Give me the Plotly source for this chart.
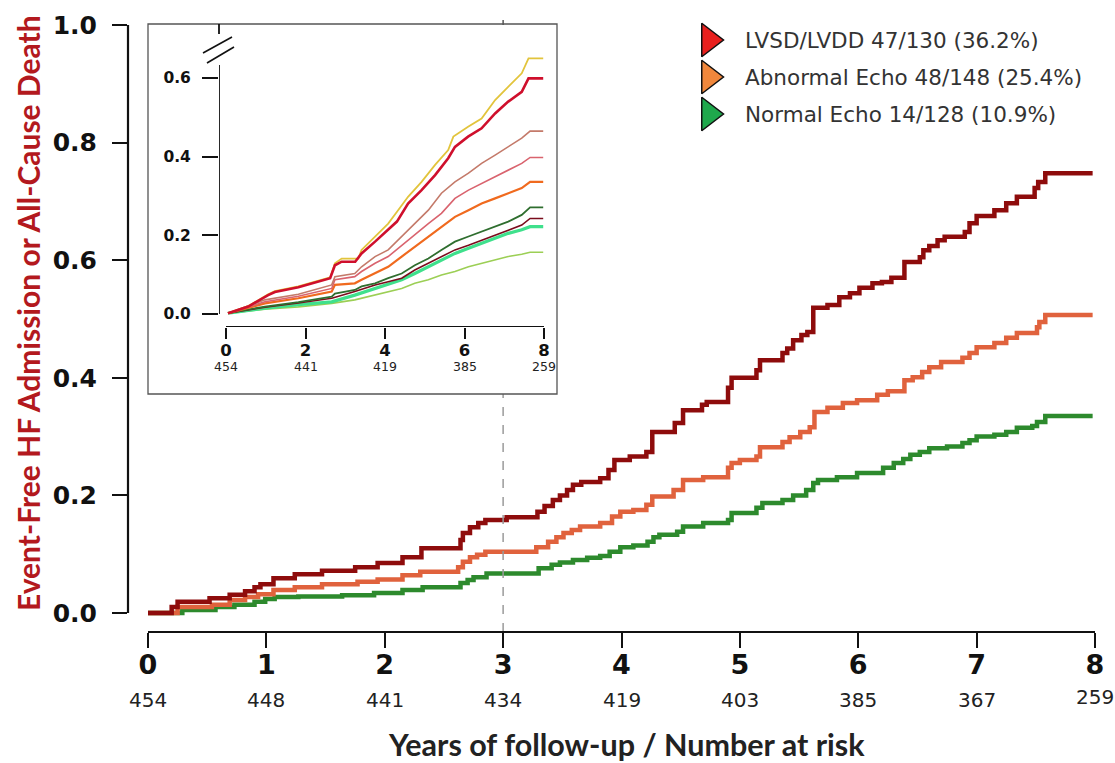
import plotly.graph_objects as go

# ---------------- data ----------------
years = [0, 1, 2, 3, 4, 5, 6, 7, 8]
at_risk = ["454", "448", "441", "434", "419", "403", "385", "367", "259"]
y_ticks = [0.0, 0.2, 0.4, 0.6, 0.8, 1.0]

series_names = ["LVSD/LVDD 47/130 (36.2%)", "Abnormal Echo 48/148 (25.4%)", "Normal Echo 14/128 (10.9%)"]

lvsd_t = [0, 0.20, 0.25, 0.52, 0.69, 0.82, 0.90, 0.95, 1.06, 1.24, 1.47, 1.75, 1.94, 2.15, 2.31,
          2.64, 2.66, 2.72, 2.79, 2.85, 3.03, 3.29, 3.35, 3.42, 3.48, 3.54, 3.59, 3.66, 3.82, 3.89,
          3.94, 4.07, 4.21, 4.26, 4.45, 4.52, 4.68, 4.72, 4.90, 4.93, 5.14, 5.17, 5.36, 5.40, 5.45,
          5.52, 5.57, 5.62, 5.74, 5.84, 5.93, 6.01, 6.12, 6.20, 6.28, 6.39, 6.52, 6.55, 6.60, 6.67,
          6.73, 6.90, 6.94, 7.00, 7.15, 7.25, 7.34, 7.49, 7.52, 7.58, 7.98]
lvsd_v = [0, 0.010, 0.019, 0.025, 0.031, 0.037, 0.044, 0.049, 0.059, 0.066, 0.072, 0.078, 0.085, 0.095, 0.110,
          0.124, 0.136, 0.146, 0.153, 0.158, 0.163, 0.172, 0.182, 0.192, 0.200, 0.209, 0.218, 0.223, 0.229, 0.243,
          0.260, 0.266, 0.274, 0.308, 0.323, 0.345, 0.354, 0.359, 0.383, 0.400, 0.413, 0.430, 0.442, 0.450, 0.464,
          0.473, 0.478, 0.519, 0.524, 0.537, 0.544, 0.553, 0.561, 0.563, 0.570, 0.597, 0.605, 0.617, 0.624, 0.634,
          0.640, 0.648, 0.663, 0.675, 0.685, 0.697, 0.708, 0.723, 0.733, 0.748, 0.748]

abn_t = [0, 0.25, 0.54, 0.69, 0.82, 0.93, 1.06, 1.24, 1.47, 1.77, 1.94, 2.15, 2.30, 2.62, 2.66, 2.72, 2.78,
         2.85, 3.28, 3.38, 3.45, 3.51, 3.58, 3.65, 3.82, 3.92, 3.99, 4.10, 4.21, 4.26, 4.44, 4.52, 4.69,
         4.90, 4.93, 5.00, 5.14, 5.17, 5.36, 5.42, 5.51, 5.59, 5.63, 5.74, 5.87, 5.99, 6.16, 6.25, 6.39,
         6.46, 6.54, 6.60, 6.70, 6.88, 6.94, 7.00, 7.15, 7.25, 7.34, 7.51, 7.53, 7.58, 7.98]
abn_v = [0, 0.010, 0.014, 0.022, 0.027, 0.032, 0.039, 0.044, 0.049, 0.053, 0.057, 0.064, 0.070, 0.078, 0.087, 0.095, 0.099,
         0.104, 0.112, 0.121, 0.129, 0.136, 0.141, 0.147, 0.153, 0.164, 0.172, 0.175, 0.184, 0.198, 0.209, 0.226, 0.231,
         0.247, 0.255, 0.260, 0.266, 0.282, 0.291, 0.299, 0.308, 0.316, 0.342, 0.349, 0.357, 0.362, 0.371, 0.377, 0.396,
         0.401, 0.410, 0.418, 0.427, 0.434, 0.442, 0.452, 0.459, 0.468, 0.476, 0.486, 0.495, 0.507, 0.507]

norm_t = [0, 0.29, 0.57, 0.73, 0.90, 0.99, 1.07, 1.27, 1.64, 1.91, 2.15, 2.32, 2.64, 2.70, 2.75, 2.86,
          3.30, 3.41, 3.48, 3.59, 3.71, 3.82, 3.90, 3.99, 4.10, 4.22, 4.27, 4.32, 4.47, 4.52, 4.69, 4.90,
          4.93, 5.14, 5.19, 5.36, 5.45, 5.56, 5.62, 5.66, 5.82, 5.99, 6.21, 6.30, 6.38, 6.44, 6.52, 6.60,
          6.75, 6.88, 6.94, 7.00, 7.15, 7.25, 7.34, 7.47, 7.51, 7.58, 7.98]
norm_v = [0, 0.005, 0.010, 0.014, 0.019, 0.024, 0.027, 0.028, 0.030, 0.034, 0.039, 0.044, 0.051, 0.056, 0.061, 0.067,
          0.076, 0.082, 0.086, 0.090, 0.094, 0.097, 0.104, 0.112, 0.115, 0.121, 0.129, 0.133, 0.138, 0.147, 0.153, 0.158,
          0.170, 0.179, 0.187, 0.192, 0.200, 0.209, 0.221, 0.226, 0.231, 0.238, 0.247, 0.255, 0.262, 0.269, 0.274, 0.280,
          0.283, 0.289, 0.294, 0.300, 0.303, 0.308, 0.315, 0.318, 0.325, 0.335, 0.335]

# inset curves
inset_years = [0, 2, 4, 6, 8]
inset_at_risk = ["454", "441", "419", "385", "259"]
inset_y_ticks = [0.0, 0.2, 0.4, 0.6]

ins_yellow_t = [0.05, 0.56, 1.06, 1.23, 1.82, 2.24, 2.62, 2.74, 2.91, 3.33, 3.41, 3.75, 4.08, 4.33, 4.58, 4.92, 5.26, 5.59, 5.72, 6.09, 6.43, 6.77, 7.10, 7.44, 7.61, 7.98]
ins_yellow_v = [0.002, 0.020, 0.050, 0.058, 0.070, 0.082, 0.093, 0.129, 0.141, 0.141, 0.163, 0.197, 0.230, 0.264, 0.298, 0.336, 0.379, 0.417, 0.451, 0.476, 0.497, 0.544, 0.578, 0.612, 0.650, 0.650]
ins_red_t = [0.05, 0.56, 1.06, 1.23, 1.82, 2.24, 2.62, 2.74, 2.91, 3.25, 3.41, 3.75, 4.08, 4.30, 4.58, 4.92, 5.26, 5.59, 5.76, 6.09, 6.43, 6.77, 7.10, 7.44, 7.61, 7.98]
ins_red_v = [0.002, 0.019, 0.048, 0.056, 0.068, 0.080, 0.091, 0.124, 0.133, 0.133, 0.154, 0.184, 0.214, 0.235, 0.281, 0.315, 0.353, 0.396, 0.425, 0.451, 0.472, 0.510, 0.540, 0.565, 0.599, 0.599]
ins_common_t = [0.05, 0.98, 1.82, 2.66, 2.74, 3.24, 3.41, 3.75, 4.08, 4.42, 4.75, 5.09, 5.42, 5.76, 6.10, 6.43, 6.77, 7.10, 7.44, 7.65, 7.98]
ins_brown_v = [0.002, 0.036, 0.050, 0.074, 0.095, 0.103, 0.120, 0.146, 0.163, 0.197, 0.230, 0.264, 0.307, 0.336, 0.358, 0.383, 0.404, 0.425, 0.447, 0.465, 0.465]
ins_pink_v = [0.002, 0.031, 0.045, 0.065, 0.087, 0.095, 0.108, 0.129, 0.146, 0.175, 0.201, 0.230, 0.256, 0.294, 0.315, 0.332, 0.349, 0.366, 0.383, 0.398, 0.398]
ins_orange_v = [0.002, 0.027, 0.040, 0.057, 0.074, 0.078, 0.087, 0.103, 0.120, 0.146, 0.171, 0.197, 0.222, 0.247, 0.264, 0.281, 0.294, 0.307, 0.320, 0.336, 0.336]
ins_dkgreen_v = [0.002, 0.019, 0.030, 0.044, 0.052, 0.061, 0.070, 0.078, 0.091, 0.103, 0.124, 0.141, 0.163, 0.184, 0.197, 0.209, 0.222, 0.235, 0.252, 0.271, 0.271]
ins_lower_t = [0.05, 0.98, 1.82, 2.66, 3.24, 3.75, 4.08, 4.42, 4.75, 5.09, 5.42, 5.76, 6.10, 6.43, 6.77, 7.10, 7.44, 7.65, 7.98]
ins_maroon_v = [0.002, 0.017, 0.028, 0.040, 0.057, 0.074, 0.082, 0.091, 0.112, 0.129, 0.146, 0.163, 0.175, 0.188, 0.201, 0.214, 0.226, 0.243, 0.243]
ins_bright_v = [0.002, 0.015, 0.024, 0.031, 0.048, 0.065, 0.074, 0.087, 0.103, 0.120, 0.137, 0.154, 0.167, 0.180, 0.192, 0.205, 0.214, 0.222, 0.222]
ins_light_v = [0.002, 0.012, 0.018, 0.027, 0.036, 0.048, 0.057, 0.065, 0.078, 0.087, 0.099, 0.108, 0.120, 0.129, 0.137, 0.146, 0.152, 0.157, 0.157]

# ---------------- layout geometry ----------------
W, H = 1115, 763
ML, MR, MT, MB = 128, 15, 20, 131
pw, ph = W - ML - MR, H - MT - MB


def px(xp):
    return (xp - ML) / pw


def py(yp):
    return (H - MB - yp) / ph


X_MAIN = [-20 / 118.4, 8 + 5 / 118.4]
Y_MAIN = [-19 / 588, 1 + 5 / 588]
X_INS = [-7 / 39.75, 8 + 4 / 39.75]
Y_INS = [-13 / 393.3, 274 / 393.3]
Y_INS_LINE_TOP = 249 / 393.3

fig = go.Figure()

main_cols = ["#8e0c0c", "#e0623d", "#2d8a2d"]
for t, v, c, n in [(lvsd_t, lvsd_v, main_cols[0], series_names[0]),
                   (abn_t, abn_v, main_cols[1], series_names[1]),
                   (norm_t, norm_v, main_cols[2], series_names[2])][::-1]:
    fig.add_trace(go.Scatter(x=t, y=v, mode="lines", line=dict(color=c, width=4.5, shape="hv"),
                             name=n, showlegend=False, hoverinfo="skip"))

# dashed reference line at 3 years (below inset, and small piece above)
fig.add_trace(go.Scatter(x=[3, 3], y=[Y_MAIN[0], (613 - 394) / 588], mode="lines",
                         line=dict(color="#9a9a9a", width=1.5, dash="dash"), showlegend=False, hoverinfo="skip"))
fig.add_trace(go.Scatter(x=[3, 3], y=[Y_MAIN[1], 1.0], mode="lines",
                         line=dict(color="#555", width=1.5), showlegend=False, hoverinfo="skip"))

# inset curves
inset_specs = [
    (ins_light_v, ins_lower_t, "#9ccf55", 1.6),
    (ins_bright_v, ins_lower_t, "#3fe08c", 3.2),
    (ins_maroon_v, ins_lower_t, "#7a0c1c", 1.6),
    (ins_dkgreen_v, ins_common_t, "#2f6e2f", 1.8),
    (ins_orange_v, ins_common_t, "#f06a1e", 2.2),
    (ins_pink_v, ins_common_t, "#d9636e", 1.6),
    (ins_brown_v, ins_common_t, "#c47a6a", 1.6),
    (ins_yellow_v, ins_yellow_t, "#e2c43c", 1.8),
    (ins_red_v, ins_red_t, "#cf0f2c", 2.6),
]
for v, t, c, w in inset_specs:
    fig.add_trace(go.Scatter(x=t, y=v, xaxis="x2", yaxis="y2", mode="lines",
                             line=dict(color=c, width=w), showlegend=False, hoverinfo="skip"))

# legend markers (axis system matching paper coords)
leg_cols = ["#e8201e", "#f0873c", "#1fa84c"]
leg_y = [py(40), py(77), py(114)]
fig.add_trace(go.Scatter(x=[px(709)] * 3, y=leg_y, xaxis="x3", yaxis="y3", mode="markers",
                         marker=dict(symbol="triangle-right", size=29, color=leg_cols,
                                     line=dict(color="#111", width=1.5)),
                         showlegend=False, hoverinfo="skip"))

ann = []
for name, yy in zip(series_names, leg_y):
    ann.append(dict(x=px(743), y=yy, xref="paper", yref="paper", text=name, showarrow=False,
                    xanchor="left", yanchor="middle", font=dict(family="DejaVu Sans", size=21.5, color="#333")))

for yr, n in zip(years, at_risk):
    ann.append(dict(x=yr, y=py(700 if yr < 8 else 697), xref="x", yref="paper", text=n, showarrow=False,
                    xanchor="center", yanchor="middle", font=dict(family="DejaVu Sans", size=20, color="#222")))
for yr, n in zip(inset_years, inset_at_risk):
    ann.append(dict(x=yr, y=py(366), xref="x2", yref="paper", text=n, showarrow=False,
                    xanchor="center", yanchor="middle", font=dict(family="DejaVu Sans", size=12.5, color="#222")))

ann.append(dict(x=px(626), y=py(744), xref="paper", yref="paper", text="<b>Years of follow-up / Number at risk</b>",
                showarrow=False, xanchor="center", yanchor="middle",
                font=dict(family="Lato", size=30.5, color="#222")))
ann.append(dict(x=px(28), y=py(313), xref="paper", yref="paper", text="<b>Event-Free HF Admission or All-Cause Death</b>",
                showarrow=False, xanchor="center", yanchor="middle", textangle=-90,
                font=dict(family="Lato", size=30, color="#b3191e")))

shapes = [
    # main axis lines
    dict(type="line", xref="paper", yref="y", x0=0, x1=0, y0=0, y1=1.0, line=dict(color="#111", width=2.2)),
    dict(type="line", xref="x", yref="paper", x0=0, x1=8, y0=0, y1=0, line=dict(color="#111", width=2.2)),
    # inset frame
    dict(type="rect", xref="paper", yref="paper", x0=px(148), x1=px(557), y0=py(394), y1=py(24),
         line=dict(color="#555", width=1.3), fillcolor="rgba(0,0,0,0)"),
    # inset axis lines
    dict(type="line", xref="x2", yref="y2", x0=X_INS[0], x1=X_INS[0], y0=0, y1=Y_INS_LINE_TOP, line=dict(color="#111", width=1.8)),
    dict(type="line", xref="paper", yref="paper", x0=px(219), x1=px(219), y0=py(24), y1=py(34), line=dict(color="#111", width=1.8)),
    dict(type="line", xref="x2", yref="y2", x0=0, x1=8, y0=Y_INS[0], y1=Y_INS[0], line=dict(color="#111", width=1.8)),
    # axis break marks
    dict(type="line", xref="paper", yref="paper", x0=px(203), x1=px(232), y0=py(53), y1=py(37), line=dict(color="#111", width=1.6)),
    dict(type="line", xref="paper", yref="paper", x0=px(207), x1=px(234), y0=py(63), y1=py(47), line=dict(color="#111", width=1.6)),
]

fig.update_layout(
    width=W, height=H, margin=dict(l=ML, r=MR, t=MT, b=MB),
    paper_bgcolor="white", plot_bgcolor="rgba(0,0,0,0)", showlegend=False,
    xaxis=dict(range=X_MAIN, domain=[0, 1], showgrid=False, zeroline=False, showline=False,
               tickmode="array", tickvals=years, ticktext=[str(y) for y in years],
               ticks="outside", ticklen=15, tickwidth=2.2, tickcolor="#111", ticklabelstandoff=-6,
               tickfont=dict(family="DejaVu Sans", size=27, color="#111", weight="bold"), anchor="y"),
    yaxis=dict(range=Y_MAIN, domain=[0, 1], showgrid=False, zeroline=False, showline=False,
               tickmode="array", tickvals=y_ticks, ticktext=[f"{v:.1f}" for v in y_ticks],
               ticks="outside", ticklen=15, tickwidth=2.2, tickcolor="#111", ticklabelstandoff=10,
               tickfont=dict(family="DejaVu Sans", size=25, color="#111", weight="bold"), anchor="x"),
    xaxis2=dict(range=X_INS, domain=[px(219), px(548)], showgrid=False, zeroline=False, showline=False,
                tickmode="array", tickvals=inset_years, ticktext=[str(y) for y in inset_years],
                ticks="outside", ticklen=11, tickwidth=1.8, tickcolor="#111", ticklabelstandoff=-3,
                tickfont=dict(family="DejaVu Sans", size=16.5, color="#111", weight="bold"), anchor="y2"),
    yaxis2=dict(range=Y_INS, domain=[py(327), py(40)], showgrid=False, zeroline=False, showline=False,
                tickmode="array", tickvals=inset_y_ticks, ticktext=[f"{v:.1f}" for v in inset_y_ticks],
                ticks="outside", ticklen=16, tickwidth=1.8, tickcolor="#111", ticklabelstandoff=8,
                tickfont=dict(family="DejaVu Sans", size=15.5, color="#111", weight="bold"), anchor="x2"),
    xaxis3=dict(range=[0, 1], domain=[0, 1], visible=False, anchor="y3", overlaying="x"),
    yaxis3=dict(range=[0, 1], domain=[0, 1], visible=False, anchor="x3", overlaying="y"),
    annotations=ann, shapes=shapes,
)

fig.write_html("out.html", config={"displayModeBar": False},
               post_script="document.body.style.margin='0px';document.body.style.padding='0px';")
